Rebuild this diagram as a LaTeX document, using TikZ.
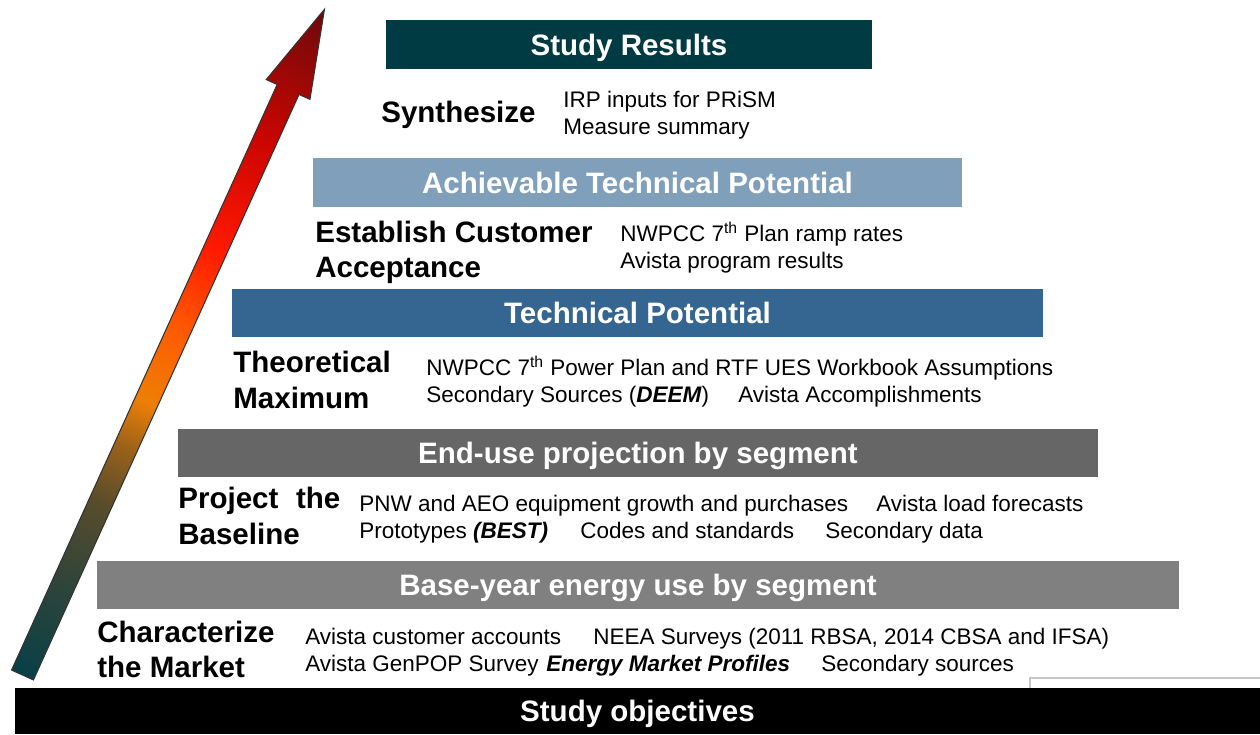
\documentclass[tikz,border=0pt]{standalone}
\usepackage{fontspec}
\setmainfont{Liberation Sans}
\usetikzlibrary{positioning}

\definecolor{resultsteal}{HTML}{003B44}
\definecolor{achievblue}{HTML}{7F9FBA}
\definecolor{techblue}{HTML}{356591}
\definecolor{enduse}{HTML}{666666}
\definecolor{baseyear}{HTML}{808080}

\newcommand*{\barfont}{\fontsize{16.8}{20}\selectfont\bfseries}
\newcommand*{\stepfont}{\fontsize{16.8}{20}\selectfont\bfseries}
\newcommand*{\srcfont}{\fontsize{12.8}{15.4}\selectfont}

% arrow colours, tail (25bp) to tip (75bp)
\pgfdeclarehorizontalshading{riser}{100bp}{%
  rgb(0bp)=(0.03,0.25,0.28); rgb(25bp)=(0.03,0.25,0.28);
  rgb(32.5bp)=(0.20,0.27,0.22); rgb(38bp)=(0.35,0.30,0.17);
  rgb(42bp)=(0.60,0.38,0.10); rgb(45.5bp)=(0.93,0.50,0.02);
  rgb(51bp)=(1.00,0.35,0.00); rgb(57bp)=(1.00,0.10,0.00);
  rgb(65bp)=(0.80,0.02,0.00); rgb(75bp)=(0.42,0.04,0.04);
  rgb(100bp)=(0.42,0.04,0.04)}

\begin{document}
\begin{tikzpicture}[
  x=0.02cm, y=-0.02cm,
  bar/.style={
    inner sep=0pt,
    text=white,
    font=\barfont,
    text height=13pt,
    text depth=0.8pt
  },
  stepname/.style={anchor=base west, inner sep=0pt, font=\stepfont},
  src/.style={anchor=base west, inner sep=0pt, font=\srcfont}
]
\useasboundingbox (0,0) rectangle (1260,734);

% bars
\node[bar, fill=resultsteal, minimum width=9.72cm, minimum height=0.98cm] (results) at (629,44.5) {Study Results};
\node[bar, fill=achievblue, minimum width=12.98cm, minimum height=0.98cm] (achiev) at (637.5,182.5) {Achievable Technical Potential};
\node[bar, fill=techblue, minimum width=16.22cm, minimum height=0.96cm] (techpot) at (637.5,313) {Technical Potential};
\node[bar, fill=enduse, minimum width=18.4cm, minimum height=0.96cm] (enduse) at (638,453) {End-use projection by segment};
\node[bar, fill=baseyear, minimum width=21.64cm, minimum height=0.96cm] (baseyr) at (638,585) {Base-year energy use by segment};

\draw[gray!45, line width=0.6pt] (1030,700) -- (1030,678) -- (1262,678);
\node[bar, fill=black, minimum width=24.9cm, minimum height=0.92cm] (objectives) at (637.5,711) {Study objectives};

% synthesize
\node[stepname] (synth) at (381,122) {Synthesize};
\node[src] (irp) at (563,107) {IRP inputs for PRiSM};
\node[src] (measure) at (563,134) {Measure summary};

% customer acceptance
\node[stepname] (estab) at (315,242) {Establish Customer};
\node[stepname] (accept) at (315,277) {Acceptance};
\node[src] (ramp) at (620,241) {NWPCC 7\textsuperscript{th} Plan ramp rates};
\node[src] (progres) at (620,268) {Avista program results};

% theoretical maximum
\node[stepname] (theor) at (233,372) {Theoretical};
\node[stepname] (maxim) at (233,408) {Maximum};
\node[src] (powerplan) at (426,375) {NWPCC 7\textsuperscript{th} Power Plan and RTF UES Workbook Assumptions};
\node[src] (deem) at (426,402) {Secondary Sources (\textbf{\textit{DEEM}})};
\node[src] (accomp) at (738,402) {Avista Accomplishments};

% baseline
\node[stepname] (project) at (178,508) {\makebox[3.24cm][s]{Project the}};
\node[stepname] (baseline) at (178,544) {Baseline};
\node[src] (pnw) at (359,511) {PNW and AEO equipment growth and purchases};
\node[src] (loadfc) at (876,511) {Avista load forecasts};
\node[src] (best) at (359,538) {Prototypes \textbf{\textit{(BEST)}}};
\node[src] (codes) at (580,538) {Codes and standards};
\node[src] (secdata) at (825,538) {Secondary data};

% market
\node[stepname] (charac) at (97,642) {Characterize};
\node[stepname] (market) at (97,677) {the Market};
\node[src] (accounts) at (305,644) {Avista customer accounts};
\node[src] (neea) at (593,644) {NEEA Surveys (2011 RBSA, 2014 CBSA and IFSA)};
\node[src] (genpop) at (305,671) {Avista GenPOP Survey};
\node[src] (emp) at (546,671) {\textbf{\textit{Energy Market Profiles}}};
\node[src] (secsrc) at (821,671) {Secondary sources};

% rising arrow
\begin{scope}[transform canvas={shift={(22.5,675)}, rotate=65.6}]
  \shade[shading=riser, draw=black!80, line width=0.6pt]
    (0,-12) -- (643,-12) -- (643,-24) -- (731,0) -- (643,24) -- (643,12) -- (0,12) -- cycle;
\end{scope}

\end{tikzpicture}
\end{document}
